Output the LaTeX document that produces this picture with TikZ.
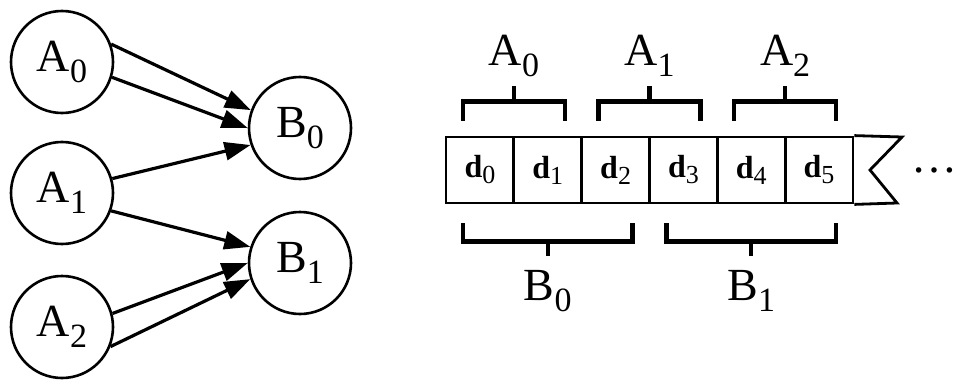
\documentclass[tikz,border=0pt]{standalone}
\usepackage{fontspec}
\setmainfont{Liberation Serif}
\usetikzlibrary{arrows.meta,calc}

\newcommand{\lbl}[2]{#1\raisebox{-5.5pt}{\fontsize{17}{17}\selectfont #2}}
\newcommand{\cel}[1]{\textbf{d}\raisebox{-3pt}{\fontsize{13}{13}\selectfont #1}}

\begin{document}
\begin{tikzpicture}[x=0.5pt, y=-0.5pt, >={Triangle[length=13pt,width=9pt]},
  state/.style={draw, circle, line width=1.3pt, minimum size=51pt, inner sep=0pt,
    font=\fontsize{23}{23}\selectfont},
  cell/.style={draw, line width=1.4pt, minimum width=34pt, minimum height=33pt,
    inner sep=0pt, font=\fontsize{16}{16}\selectfont},
  brk/.style={line width=2.2pt},
  lab/.style={inner sep=0pt, font=\fontsize{23}{23}\selectfont},
  link/.style={->, line width=1.6pt}]

\useasboundingbox (0,0) rectangle (957,385);

% graph of the two layers
\foreach \l/\y in {0/62, 1/193, 2/327}
  \node [state] (A\l) at (62,\y) {\lbl{A}{\l}};

\foreach \l/\y in {0/128, 1/263}
  \node [state] (B\l) at (300,\y) {\lbl{B}{\l}};

\draw [link] (A0.20)  -- (B0.160);
\draw [link] (A0.-17) -- (B0.180);
\draw [link] (A1.16)  -- (B0.199);
\draw [link] (A1.-20) -- (B1.162);
\draw [link] (A2.15)  -- (B1.180);
\draw [link] (A2.-22) -- (B1.198);

% the tape
\foreach \i in {0,...,5}
  \node [cell] (d\i) at (480+\i*67.8,170) {\cel{\i}};

\coordinate (tr) at (902,137);
\coordinate (notch) at (870,170);
\coordinate (br) at (897,203);
\draw [line width=1.4pt] (d5.north east) -- (tr) -- (notch) -- (br) -- (d5.south east);

\node [lab] (dots) at (934,170) {\dots};

% brackets above
\foreach \a/\b/\l in {0/1/0, 2/3/1, 4/5/2} {
  \coordinate (ta\l) at ($(d\a.north)!0.5!(d\b.north)+(0,-34)$);
  \draw [brk] ([shift={(-17,-15)}]d\a.north) |- ([shift={(17,-34)}]d\b.north) -- ++(0,19);
  \draw [brk] (ta\l) -- ++(0,-16);
  \node [lab] (la\l) at ($(ta\l)+(0,-46)$) {\lbl{A}{\l}};
}

% brackets below
\foreach \a/\b/\l in {0/2/0, 3/5/1} {
  \coordinate (tb\l) at ($(d\a.south)!0.5!(d\b.south)+(0,37)$);
  \draw [brk] ([shift={(-17,19)}]d\a.south) |- ([shift={(17,37)}]d\b.south) -- ++(0,-18);
  \draw [brk] (tb\l) -- ++(0,15);
  \node [lab] (lb\l) at ($(tb\l)+(0,50)$) {\lbl{B}{\l}};
}

\end{tikzpicture}
\end{document}
